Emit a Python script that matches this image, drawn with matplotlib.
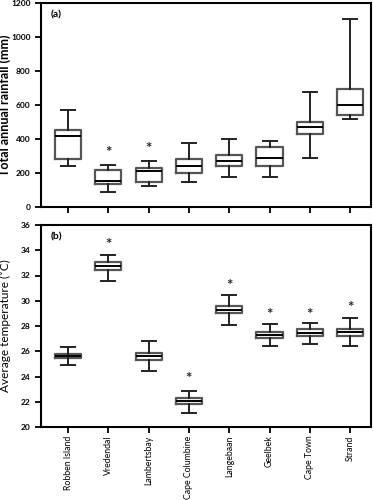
import matplotlib
matplotlib.use('Agg')
import matplotlib.pyplot as plt

plt.rcParams['font.family'] = ['Lato', 'DejaVu Sans']

stations = ['Robben Island', 'Vredendal', 'Lambertsbay', 'Cape Columbine',
            'Langebaan', 'Geelbek', 'Cape Town', 'Strand']

# rainfall (mm): whisker low, q1, median, q3, whisker high
rain_wlo = [239, 90, 123, 149, 175, 175, 291, 515]
rain_q1 = [285, 133, 145, 201, 239, 243, 430, 543]
rain_med = [416, 151, 209, 241, 273, 289, 468, 601]
rain_q3 = [454, 217, 231, 285, 304, 352, 501, 697]
rain_whi = [568, 249, 271, 374, 400, 386, 675, 1106]
rain_star = [None, 320, 342, None, None, None, None, None]

# temperature (°C)
temp_wlo = [24.92, 31.55, 24.46, 21.13, 28.07, 26.44, 26.60, 26.44]
temp_q1 = [25.45, 32.45, 25.30, 21.80, 29.00, 27.05, 27.18, 27.20]
temp_med = [25.63, 32.78, 25.60, 22.06, 29.30, 27.30, 27.47, 27.50]
temp_q3 = [25.82, 33.05, 25.88, 22.30, 29.60, 27.50, 27.80, 27.80]
temp_whi = [26.34, 33.65, 26.78, 22.85, 30.45, 28.15, 28.20, 28.65]
temp_star = [None, 34.4, None, 23.8, 31.2, 28.9, 28.9, 29.4]


def make_stats(wlo, q1, med, q3, whi):
    return [dict(whislo=a, q1=b, med=c, q3=d, whishi=e, fliers=[])
            for a, b, c, d, e in zip(wlo, q1, med, q3, whi)]


def draw(ax, stats, stars):
    pos = list(range(1, len(stats) + 1))
    ax.bxp(stats, positions=pos, widths=0.65, capwidths=0.35, showfliers=False,
           boxprops=dict(color='#555555', linewidth=1.6),
           medianprops=dict(color='black', linewidth=1.4),
           whiskerprops=dict(color='#222222', linewidth=1.4),
           capprops=dict(color='#222222', linewidth=1.4))
    for p, s in zip(pos, stars):
        if s is not None:
            ax.text(p, s, '*', ha='center', va='center', fontsize=11,
                    fontweight='bold', color='#222222')
    ax.set_xlim(0.33, 8.52)
    ax.set_xticks(pos)
    for sp in ax.spines.values():
        sp.set_linewidth(1.5)
    ax.tick_params(direction='out', length=4, width=1.3, labelsize=6)


fig = plt.figure(figsize=(3.73, 5.0), dpi=100)
ax1 = fig.add_axes([0.11, 0.586, 0.885, 0.408])
ax2 = fig.add_axes([0.11, 0.146, 0.885, 0.404])

draw(ax1, make_stats(rain_wlo, rain_q1, rain_med, rain_q3, rain_whi), rain_star)
ax1.set_ylim(0, 1200)
ax1.set_yticks(range(0, 1201, 200))
ax1.set_xticklabels([])
ax1.set_ylabel('Total annual rainfall (mm)', fontsize=9, fontweight='bold')
ax1.yaxis.set_label_coords(-0.09, 0.5)
ax1.text(0.03, 0.965, '(a)', transform=ax1.transAxes, fontsize=7.5,
         fontweight='bold', va='top')

draw(ax2, make_stats(temp_wlo, temp_q1, temp_med, temp_q3, temp_whi), temp_star)
ax2.set_ylim(20, 36)
ax2.set_yticks(range(20, 37, 2))
ax2.set_xticklabels(stations, rotation=90, fontsize=6.3)
ax2.tick_params(axis='x', pad=2)
ax2.set_ylabel('Average temperature (˚C)', fontsize=8.5)
ax2.yaxis.set_label_coords(-0.09, 0.5)
ax2.text(0.03, 0.965, '(b)', transform=ax2.transAxes, fontsize=7.5,
         fontweight='bold', va='top')
for lab in ax1.get_yticklabels() + ax2.get_yticklabels():
    lab.set_fontweight('bold')

fig.savefig('out.png', dpi=100)
